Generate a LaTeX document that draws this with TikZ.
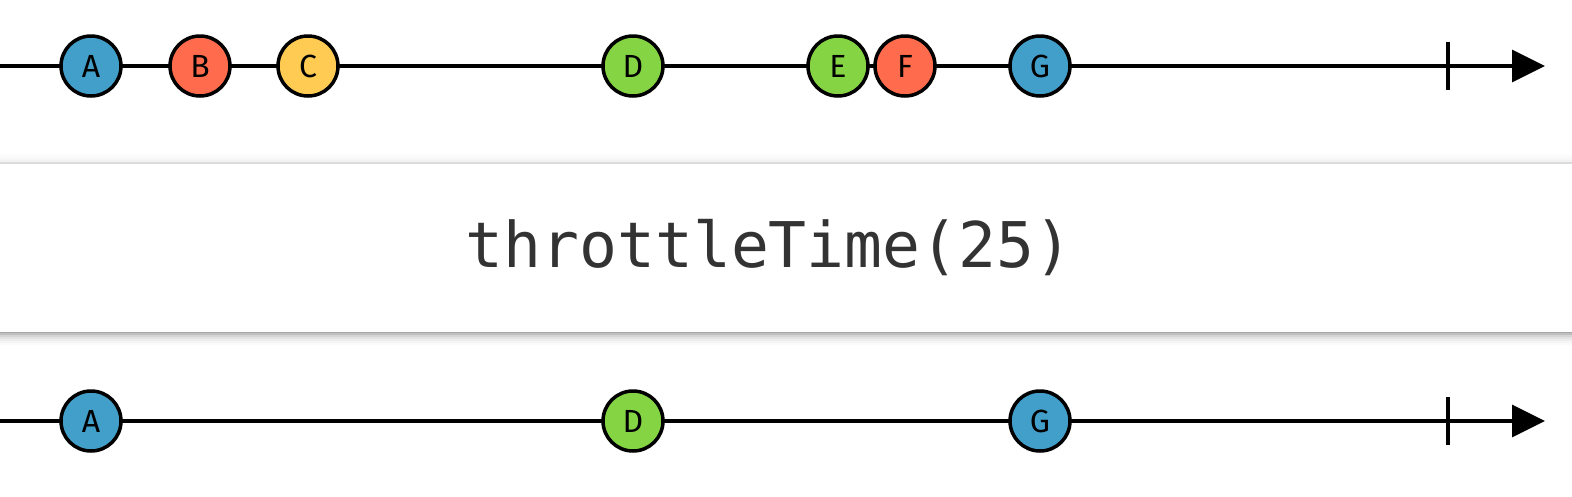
\documentclass[tikz,border=0pt]{standalone}
\usepackage{fontspec}
\setmainfont{Fira Sans}
\setmonofont{DejaVu Sans Mono}
\usetikzlibrary{arrows.meta}

\definecolor{mblue}{HTML}{429FCA}
\definecolor{mred}{HTML}{FF6B4D}
\definecolor{myellow}{HTML}{FFCB52}
\definecolor{mgreen}{HTML}{84D443}
\definecolor{optext}{HTML}{333333}

\begin{document}
\begin{tikzpicture}[
  x=1pt, y=-1pt,
  timeline/.style={line width=3.5pt, -{Triangle[length=33pt, width=32pt]}},
  marble/.style={circle, draw, line width=3.5pt, inner sep=0pt, minimum size=60pt,
                 font=\fontsize{32}{32}\selectfont},
  endtick/.style={line width=3.5pt},
  optitle/.style={font=\ttfamily\fontsize{63}{63}\selectfont, text=optext}
]
\useasboundingbox (0,0) rectangle (1572,496);

% operator box with shadow
\foreach \d/\g in {13/2,11/4,9/7,7/11,5/17,3/25,1/35} {
  \fill[black!\g] (0,332) rectangle (1572,332+\d);
}
\foreach \d/\g in {8/1,6/2,4/3,2/5} {
  \fill[black!\g] (0,162-\d) rectangle (1572,162);
}
\fill[white] (0,162) rectangle (1572,332);
\draw[black!14, line width=2pt] (0,163) -- (1572,163);
\node[optitle] (op) at (769,248) {throttleTime(25)};

% source timeline
\coordinate (srcstart) at (0,66);
\coordinate (srcend) at (1545,66);
\draw[timeline] (srcstart) -- (srcend);
\draw[endtick] (1448,42) -- (1448,90);

\node[marble, fill=mblue] (a) at (91,66) {A};
\node[marble, fill=mred] (b) at (200,66) {B};
\node[marble, fill=myellow] (c) at (308,66) {C};
\node[marble, fill=mgreen] (d) at (633,66) {D};
\node[marble, fill=mgreen] (e) at (838,66) {E};
\node[marble, fill=mred] (f) at (905,66) {F};
\node[marble, fill=mblue] (g) at (1040,66) {G};

% result timeline
\coordinate (resstart) at (0,421);
\coordinate (resend) at (1545,421);
\draw[timeline] (resstart) -- (resend);
\draw[endtick] (1448,397) -- (1448,445);

\node[marble, fill=mblue] (ra) at (91,421) {A};
\node[marble, fill=mgreen] (rd) at (633,421) {D};
\node[marble, fill=mblue] (rg) at (1040,421) {G};

\end{tikzpicture}
\end{document}
